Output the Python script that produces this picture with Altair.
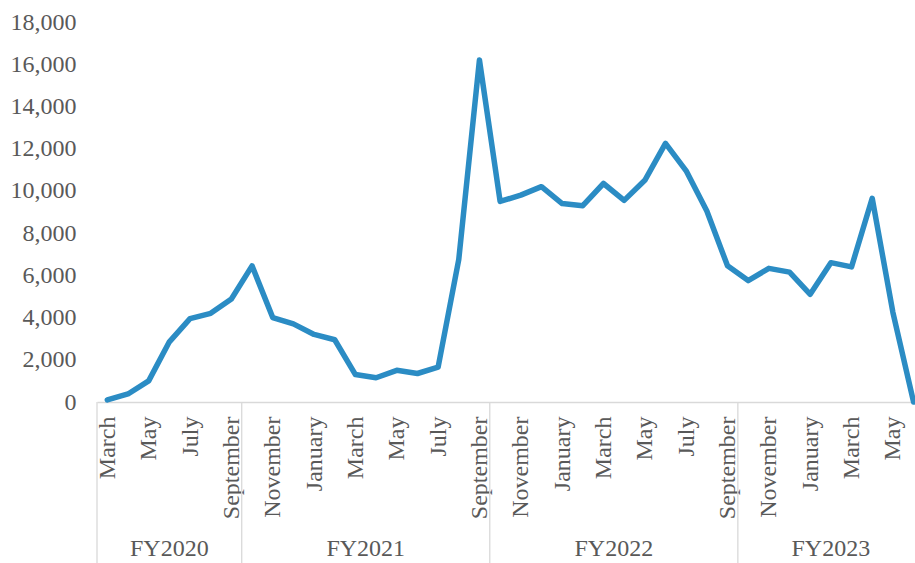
import json
import altair as alt
import pandas as pd

# ---- data ----
months = [
    "March", "April", "May", "June", "July", "August", "September",
    "October", "November", "December", "January", "February", "March",
    "April", "May", "June", "July", "August", "September",
    "October", "November", "December", "January", "February", "March",
    "April", "May", "June", "July", "August", "September",
    "October", "November", "December", "January", "February", "March",
    "April", "May", "June",
]
values = [
    100, 380, 1000, 2850, 3950, 4200, 4880,
    6450, 4000, 3700, 3200, 2950, 1300, 1150, 1500, 1350, 1650, 6750, 16200,
    9500, 9800, 10200, 9400, 9300, 10350, 9550, 10500, 12250, 10950, 9050, 6450,
    5750, 6330, 6150, 5100, 6600, 6400, 9650, 4250, 0,
]
fiscal_years = ["FY2020", "FY2021", "FY2022", "FY2023"]
fy_month_counts = [7, 12, 12, 9]
y_ticks = list(range(0, 18001, 2000))

# ---- tables ----
line_df = pd.DataFrame({"idx": list(range(len(values))), "month": months, "value": values})
starts = []
s = 0
for c in fy_month_counts:
    starts.append(s)
    s += c
fy_df = pd.DataFrame({
    "fy": fiscal_years,
    "pos": [st + c / 2 - 0.5 for st, c in zip(starts, fy_month_counts)],
})
sep_df = pd.DataFrame({"pos": [st - 0.5 for st in starts]})

FONT = "Liberation Serif"
GREY = "#595959"
LINEC = "#d9d9d9"
FS = 24

x_scale = alt.Scale(domain=[-0.5, 39.07], nice=False, zero=False)
label_expr = json.dumps(months) + "[datum.value]"
x_axis = alt.Axis(
    values=list(range(0, len(months), 2)),
    labelExpr=label_expr,
    labelAngle=270,
    labelAlign="right",
    labelBaseline="middle",
    labelPadding=14,
    ticks=False,
    tickSize=0,
    grid=False,
    labelOverlap=False,
    labelFlush=False,
    labelBound=False,
    domainColor=LINEC,
    domainWidth=1.3,
    title="",
)
y_axis = alt.Axis(
    values=y_ticks,
    format=",.0f",
    domain=False,
    ticks=False,
    tickSize=0,
    grid=False,
    labelPadding=21,
    title="",
)
y_scale = alt.Scale(domain=[0, 18000], nice=False)

line = alt.Chart(line_df).mark_line(
    color="#2b8cc4", strokeWidth=5.5, strokeJoin="round", strokeCap="round"
).encode(
    x=alt.X("idx:Q", scale=x_scale, axis=x_axis),
    y=alt.Y("value:Q", scale=y_scale, axis=y_axis),
)

seps = alt.Chart(sep_df).mark_rule(color=LINEC, strokeWidth=1.3).encode(
    x=alt.X("pos:Q", scale=x_scale, axis=x_axis),
    y=alt.value(380),
    y2=alt.value(545),
)

fy_text = alt.Chart(fy_df).mark_text(
    font=FONT, fontSize=FS, color=GREY, baseline="middle", align="center"
).encode(
    x=alt.X("pos:Q", scale=x_scale, axis=x_axis),
    y=alt.value(527),
    text="fy:N",
)

chart = alt.layer(seps, line, fy_text).properties(
    width=818,
    height=380,
    autosize=alt.AutoSizeParams(type="none"),
    padding={"left": 97, "top": 22, "right": 0, "bottom": 161},
).configure_view(
    stroke="transparent"
).configure_axis(
    labelFont=FONT, labelFontSize=FS, labelColor=GREY
)

chart.save("out.html", embed_options={"renderer": "svg", "actions": False})
